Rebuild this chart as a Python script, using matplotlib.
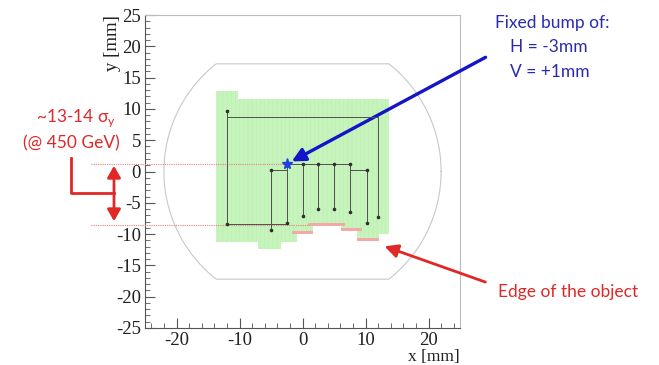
import numpy as np
import matplotlib
matplotlib.use("Agg")
import matplotlib.pyplot as plt
from matplotlib.patches import Rectangle, FancyArrowPatch
from matplotlib.ticker import MultipleLocator

plt.rcParams['axes.unicode_minus'] = False
plt.rcParams['hatch.linewidth'] = 0.3

# aperture: circle with flat top / bottom
aper_radius = 22.0
aper_flat = 17.2

# green map of scanned positions, one entry per column
green_edges = [-13.8, -10.3, -7.1, -3.4, -0.9, 1.7, 6.1, 8.6, 12.1, 13.7]
green_top = [12.8, 11.6, 11.6, 11.6, 11.6, 11.6, 11.6, 11.6, 11.6]
green_bottom = [-11.2, -11.2, -12.4, -11.3, -9.9, -8.7, -9.4, -11.1, -10.0]

# pink cells: edge of the object (x left, x right, y)
edge_xl = [-1.7, 0.9, 6.1, 8.6]
edge_xr = [1.7, 6.8, 9.4, 12.1]
edge_y = [-9.7, -8.5, -9.2, -10.9]

# scan path polylines
path_x = [[-12, -12], [-12, 12, 12], [-12, -2.5, -2.5], [-2.5, -5, -5],
          [-2.5, 7.5], [0, 0], [2.5, 2.5], [5, 5], [7.5, 7.5], [7.5, 10.2, 10.2]]
path_y = [[9.7, -8.4], [8.7, 8.7, -7.2], [-8.4, -8.4, 1.2], [0.2, 0.2, -9.4],
          [1.2, 1.2], [1.2, -7.1], [1.2, -6.0], [1.2, -6.0], [1.2, -6.5], [0.2, 0.2, -8.3]]
dot_x = [-12, -12, 12, -2.5, -5, -5, 0, 2.5, 5, 7.5, 0, 2.5, 5, 7.5, 10.2, 10.2]
dot_y = [9.7, -8.4, -7.2, -8.3, 0.2, -9.4, 1.2, 1.2, 1.2, 1.2, -7.1, -6.0, -6.0, -6.5, 0.2, -8.3]

bump_x, bump_y = -2.5, 1.2
edge_level = -8.5

W, H = 659, 365
fig = plt.figure(figsize=(W / 100, H / 100), dpi=100)
ax = fig.add_axes([145 / W, 1 - 328 / H, 315 / W, 313 / H])

def px(x, y):
    # figure pixel position measured from the top-left
    return (x / W, 1 - y / H)

# aperture outline
t = np.linspace(0, 2 * np.pi, 721)
ax.plot(aper_radius * np.cos(t), np.clip(aper_radius * np.sin(t), -aper_flat, aper_flat),
        color='#c8c8c8', lw=0.8, zorder=1)

# green scan map
for i in range(len(green_top)):
    ax.add_patch(Rectangle((green_edges[i], green_bottom[i]),
                           green_edges[i + 1] - green_edges[i],
                           green_top[i] - green_bottom[i],
                           facecolor='#c6f4bc', edgecolor='#b6ecab', lw=0,
                           hatch='||||', zorder=2))

for xl, xr, y in zip(edge_xl, edge_xr, edge_y):
    ax.add_patch(Rectangle((xl, y - 0.25), xr - xl, 0.5, facecolor='#f5a8a8',
                           lw=0, zorder=3))

# dotted red reference lines (go out of the frame on the left)
ax.plot([-33.5, bump_x], [bump_y, bump_y], color='#e88080', lw=0.8, ls=(0, (1, 1)),
        clip_on=False, zorder=4)
ax.plot([-33.5, 1.0], [edge_level, edge_level], color='#e88080', lw=0.8, ls=(0, (1, 1)),
        clip_on=False, zorder=4)

for xs, ys in zip(path_x, path_y):
    ax.plot(xs, ys, color='#505050', lw=0.7, zorder=5)
ax.plot(dot_x, dot_y, 'o', color='#303030', ms=1.6, zorder=6)
ax.plot([bump_x], [bump_y], '*', color='#2040e0', ms=8, zorder=7)

ax.set_xlim(-25, 25)
ax.set_ylim(-25, 25)
ax.xaxis.set_major_locator(MultipleLocator(10))
ax.xaxis.set_minor_locator(MultipleLocator(2))
ax.yaxis.set_major_locator(MultipleLocator(5))
ax.yaxis.set_minor_locator(MultipleLocator(1))
ax.tick_params(which='both', direction='in', top=False, right=False, color='#555555')
ax.tick_params(which='major', length=7, width=0.8)
ax.tick_params(which='minor', length=3.5, width=0.6)
ax.tick_params(axis='y', pad=3)
ax.tick_params(axis='x', pad=3)
for lab in ax.get_xticklabels() + ax.get_yticklabels():
    lab.set_fontfamily('Liberation Serif')
    lab.set_fontsize(13.5)
    lab.set_color('#202020')
for s in ['left', 'bottom']:
    ax.spines[s].set_color('#555555')
for s in ['top', 'right']:
    ax.spines[s].set_color('#bbbbbb')
ax.set_xlabel('x [mm]', loc='right', fontfamily='Liberation Serif', fontsize=12.5,
              labelpad=0, color='#202020')
ax.set_ylabel('y [mm]', loc='top', fontfamily='Liberation Serif', fontsize=13.5,
              labelpad=-4, color='#202020')

# annotations
blue = '#2a2ab0'
red = '#e02828'
tf = dict(family='Lato', fontsize=12.5, ha='center', va='center')
fig.text(*px(552, 23), 'Fixed bump of:', color=blue, **tf)
fig.text(*px(549, 47), 'H = -3mm', color=blue, **tf)
fig.text(*px(550, 72), 'V = +1mm', color=blue, **tf)
fig.text(*px(568, 292), 'Edge of the object', color=red, **tf)
fig.text(*px(76, 118), r'~13-14 σ$_\mathregular{y}$', color=red, **tf)
fig.text(*px(71, 143), '(@ 450 GeV)', color=red, **tf)

ax.annotate('', xy=(bump_x + 0.4, bump_y + 0.2), xycoords='data',
            xytext=px(488, 56), textcoords='figure fraction',
            arrowprops=dict(arrowstyle='-|>,head_length=0.8,head_width=0.4',
                            color='#1414c8', lw=2.4), annotation_clip=False)
ax.annotate('', xy=(12.6, -11.8), xycoords='data',
            xytext=px(488, 283), textcoords='figure fraction',
            arrowprops=dict(arrowstyle='-|>,head_length=0.8,head_width=0.4',
                            color=red, lw=2.0), annotation_clip=False)

# bracket with double arrow on the left
fig.add_artist(plt.Line2D([71 / W, 71 / W, 114 / W], [1 - 158 / H, 1 - 193 / H, 1 - 193 / H],
                          color=red, lw=2.0))
fig.add_artist(FancyArrowPatch(px(114, 163), px(114, 224), transform=fig.transFigure,
                               arrowstyle='<|-|>,head_length=7,head_width=4',
                               color=red, lw=2.0))

fig.savefig('out.png', dpi=100)
